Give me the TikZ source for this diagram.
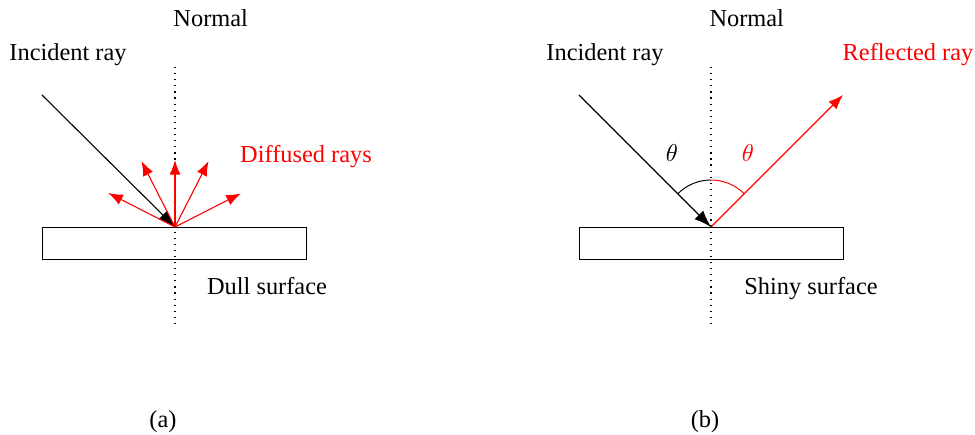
\documentclass[tikz,border=0pt]{standalone}
\usepackage{fontspec}
\setmainfont{Liberation Serif}
\usepackage{tikz}
\usetikzlibrary{arrows.meta, calc, positioning}
\definecolor{ray_red}{RGB}{255,0,0}
\tikzset{
    surface/.style={draw=black, line width=0.4pt},
    normalline/.style={dotted, line width=0.5pt},
    incray/.style={-{Latex[length=7pt, width=5pt]}, line width=0.45pt},
    difray/.style={ray_red, -{Latex[length=6pt, width=4.5pt]}, line width=0.45pt},
    label/.style={inner sep=0pt, font=\normalsize},
}
\begin{document}
\begin{tikzpicture}[x=0.01442cm, y=0.01442cm]
    \useasboundingbox (0,0) rectangle (975,434);
    % (a) dull surface
    \coordinate (hitA) at (175,207);
    \coordinate (normtopA) at (175,367);
    \coordinate (normbotA) at (175,109);
    \coordinate (incA) at (42,339);
    \draw[surface] (42,175) rectangle (306,207);
    \draw[normalline] (normtopA) -- (normbotA);
    \draw[incray] (incA) -- (hitA);
    \foreach \ang/\len in {153/75, 117/74, 90/67, 63/74, 27/74} {
        \draw[difray] (hitA) -- ++(\ang:\len);
    }
    \node[label, anchor=base west] (normalA) at (173,407) {Normal};
    \node[label, anchor=base] (incidentA) at (68,373) {Incident ray};
    \node[label, anchor=base, text=ray_red] (diffused) at (306,272) {Diffused rays};
    \node[label, anchor=base] (dull) at (267,140) {Dull surface};
    \node[label, anchor=base] (capA) at (163,7) {(a)};
    % (b) shiny surface
    \coordinate (hitB) at (711,207);
    \coordinate (normtopB) at (711,367);
    \coordinate (normbotB) at (711,109);
    \coordinate (incB) at (579,339);
    \coordinate (refB) at (843,339);
    \draw[surface] (579,175) rectangle (843,207);
    \draw[normalline] (normtopB) -- (normbotB);
    \draw[incray] (incB) -- (hitB);
    \draw[difray] (hitB) -- (refB);
    \draw ($(hitB)+(135:47)$) arc[start angle=135, end angle=90, radius=47];
    \draw[ray_red] ($(hitB)+(90:47)$) arc[start angle=90, end angle=45, radius=47];
    \node[label, anchor=base west] (normalB) at (709,407) {Normal};
    \node[label, anchor=base] (incidentB) at (605,373) {Incident ray};
    \node[label, anchor=base, text=ray_red] (reflected) at (908,373) {Reflected ray};
    \node[label] (thetaL) at (672,281) {$\theta$};
    \node[label, text=ray_red] (thetaR) at (748,281) {$\theta$};
    \node[label, anchor=base] (shiny) at (811,140) {Shiny surface};
    \node[label, anchor=base] (capB) at (705,7) {(b)};
\end{tikzpicture}
\end{document}
